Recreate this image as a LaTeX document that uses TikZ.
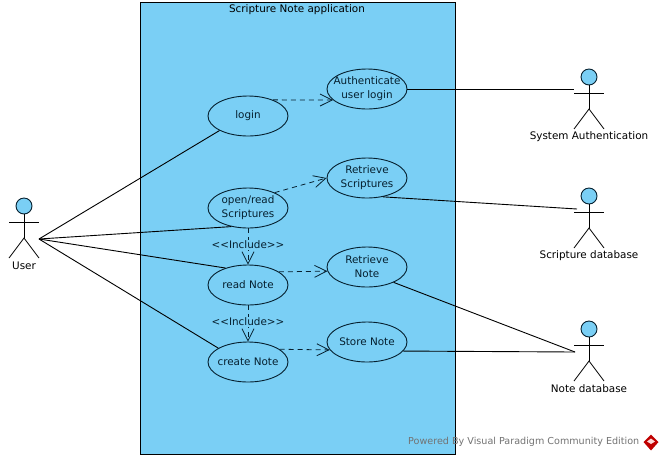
\documentclass[tikz,border=0pt]{standalone}
\usepackage{fontspec}
\setmainfont{DejaVu Sans}
\usetikzlibrary{arrows.meta,shapes.geometric}
\definecolor{vpblue}{HTML}{7ACFF5}
\definecolor{vpline}{HTML}{06202F}
\tikzset{
  uc/.style={ellipse,draw=vpline,line width=0.9pt,fill=vpblue,minimum width=80pt,minimum height=40pt,inner sep=-8pt,align=center,font=\fontsize{10.4}{14}\selectfont,text=vpline},
  assoc/.style={draw=black,line width=0.9pt},
  dep/.style={draw=vpline,line width=0.8pt,dash pattern=on 5pt off 4pt,-{Straight Barb[length=12pt,width=12pt,line width=0.8pt]}},
  actorhead/.style={circle,draw=vpline,line width=0.9pt,fill=vpblue,minimum size=16pt,inner sep=0pt},
  actorline/.style={draw=black,line width=0.8pt},
  lbl/.style={inner sep=0pt,font=\fontsize{10.4}{12}\selectfont,text=black},
  inc/.style={inner sep=1pt,fill=vpblue,font=\fontsize{10.4}{12}\selectfont,text=vpline},
}
\newcommand{\vpactor}[4]{% name, x, heady, label
  \node[actorhead] (#1h) at (#2,#3) {};
  \draw[actorline] (#1h.south) -- (#2,#3+32);
  \draw[actorline] (#2-15,#3+16) -- (#2+15,#3+16);
  \draw[actorline] (#2-15,#3+52) -- (#2,#3+32) -- (#2+15,#3+52);
  \node[lbl] (#1l) at (#2,#3+60) {#4};
}
\begin{document}
\begin{tikzpicture}[x=1pt,y=-1pt]
\useasboundingbox (0,0) rectangle (663,459);
\fill[white] (0,0) rectangle (663,459);
\node[rectangle,draw=black,line width=0.9pt,fill=vpblue,minimum width=315pt,minimum height=452pt,inner sep=0pt] (sys) at (297.5,228) {};
\node[lbl] (title) at (297,10) {Scripture Note application};
\node[uc] (login) at (248,116) {login};
\node[uc] (auth) at (367,89) {Authenticate\\user login};
\node[uc] (open) at (248,208) {open/read\\Scriptures};
\node[uc] (rs) at (367,178) {Retrieve\\Scriptures};
\node[uc] (read) at (248,285) {read Note};
\node[uc] (rn) at (367,267) {Retrieve\\Note};
\node[uc] (create) at (248,362) {create Note};
\node[uc] (store) at (367,342) {Store Note};
\vpactor{user}{24}{206}{User}
\vpactor{sa}{589}{77}{System Authentication}
\vpactor{sd}{589}{196}{Scripture database}
\vpactor{nd}{589}{329}{Note database}
\coordinate (userp) at (39,239);
\coordinate (sap) at (574,89);
\coordinate (sdp) at (577,209);
\coordinate (ndp) at (575,352);
\draw[assoc] (userp) -- (login.207);
\draw[assoc] (userp) -- (open.228);
\draw[assoc] (userp) -- (read.143);
\draw[assoc] (userp) -- (create.155);
\draw[assoc] (auth.east) -- (sap);
\draw[assoc] (rs.-50) -- (sdp);
\draw[assoc] (rn.-30) -- (ndp);
\draw[assoc] (store.-14.5) -- (ndp);
\draw[dep] (login.33) -- (auth.198);
\draw[dep] (open.30) -- (rs.180);
\draw[dep] (read.23) -- (rn.186);
\draw[dep] (create.22) -- (store.192);
\draw[dep] (open.south) -- node[inc,pos=0.45] {<{}<Include>{}>} (read.north);
\draw[dep] (read.south) -- node[inc,pos=0.45] {<{}<Include>{}>} (create.north);
\node[inner sep=0pt,font=\fontsize{9.6}{12}\selectfont,text=black!55,anchor=west] (wm) at (408,442) {Powered By Visual Paradigm Community Edition};
\fill[red!75!black] (651,434.5) -- (658.5,442) -- (651,450.5) -- (643.5,442) -- cycle;
\fill[white!85!red] (651,438.5) -- (655,441.5) -- (651,444) -- (647,441.5) -- cycle;
\end{tikzpicture}
\end{document}
